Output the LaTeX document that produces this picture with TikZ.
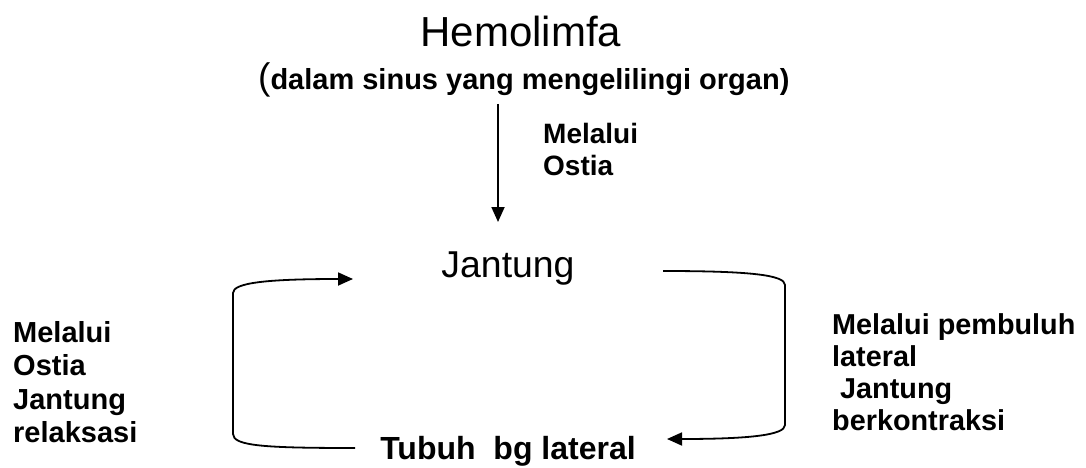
\documentclass[tikz,border=0pt]{standalone}
\usepackage{fontspec}
\setmainfont{Liberation Sans}
\usetikzlibrary{arrows.meta}

\begin{document}
\begin{tikzpicture}[x=1pt, y=-1pt,
    arr/.style={line width=1.8pt, -{Triangle[length=15pt, width=13pt]}},
    lbl/.style={inner sep=0pt, align=left, anchor=north west},
    big/.style={inner sep=0pt, anchor=base}]
  \useasboundingbox (0, 0) rectangle (1086, 468);
  \node (hemo) at (521, 47) [big, font=\fontsize{42}{46}\selectfont] {Hemolimfa};
  \node (sinus) at (258, 90) [inner sep=0pt, anchor=base west]
    {{\fontsize{37}{40}\selectfont(}{\fontsize{29}{33}\selectfont\bfseries dalam sinus yang mengelilingi organ)}};
  \node (jantung) at (508, 277) [big, font=\fontsize{37.4}{41}\selectfont] {Jantung};
  \node (tubuh) at (508, 459) [big, font=\fontsize{32}{36}\selectfont\bfseries] {Tubuh\ \ bg lateral};
  \node (ostia) at (543, 123) [lbl, font=\fontsize{28}{32}\selectfont\bfseries] {Melalui\\Ostia};
  \node (relaks) at (13, 321) [lbl, font=\fontsize{29}{33.5}\selectfont\bfseries] {Melalui\\Ostia\\Jantung\\relaksasi};
  \begin{scope}
    \clip (820, 290) rectangle (1086, 430);
    \node (kontr) at (832, 313) [lbl, font=\fontsize{28.8}{32}\selectfont\bfseries] {Melalui pembuluh\\lateral\\ \ Jantung\\berkontraksi};
  \end{scope}
  \coordinate (v1) at (498, 104);
  \coordinate (v2) at (498, 222);
  \coordinate (jl) at (353, 279);
  \coordinate (jr) at (663, 271);
  \coordinate (tl) at (355, 448);
  \coordinate (tr) at (667, 439);
  \draw[arr] (v1) -- (v2);
  \draw[arr] (tl) .. controls (265, 448) and (233, 446) .. (233, 434) -- (233, 293) .. controls (233, 283) and (265, 279) .. (jl);
  \draw[arr] (jr) .. controls (750, 271) and (785, 275) .. (785, 285) -- (785, 425) .. controls (785, 435) and (750, 439) .. (tr);
\end{tikzpicture}
\end{document}
